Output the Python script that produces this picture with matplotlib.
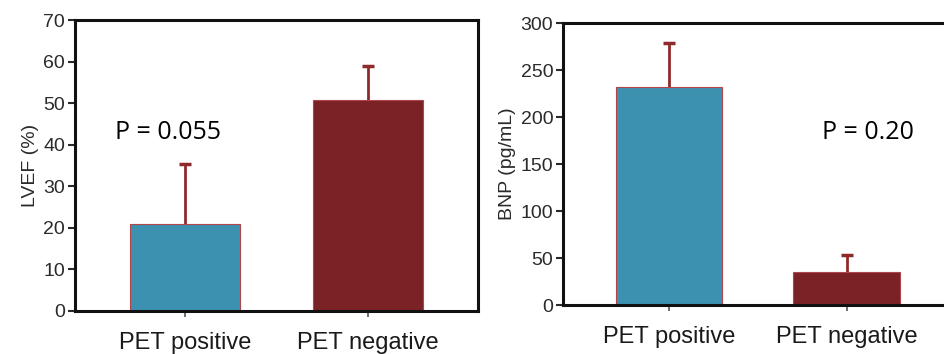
import matplotlib
matplotlib.use("Agg")
import matplotlib.pyplot as plt

groups = ["PET positive", "PET negative"]
lvef = [21, 50.7]
lvef_err = [14.3, 8.2]
bnp = [232, 35]
bnp_err = [47, 18]
p_lvef = "P = 0.055"
p_bnp = "P = 0.20"

colors = ["#3d91b0", "#7a2226"]
err_color = "#8e2a2c"
tick_color = "#2a2a2a"

plt.rcParams["font.family"] = ["Liberation Sans", "DejaVu Sans"]

fig = plt.figure(figsize=(9.44, 3.54), dpi=100)
ax1 = fig.add_axes([0.0794, 0.1215, 0.4269, 0.822])
ax2 = fig.add_axes([0.5964, 0.1384, 0.413, 0.7966])


def draw_panel(ax, vals, errs, ylim, step, ylabel, ptext, px, py):
    x = range(len(groups))
    ax.bar(x, vals, width=0.6, color=colors, edgecolor="#b0464a", linewidth=0.8, zorder=2)
    eb = ax.errorbar(x, vals, yerr=[[0] * len(errs), errs], fmt="none", ecolor=err_color,
                     elinewidth=2, capsize=4, capthick=2.5, zorder=1)
    # only the upper cap is wanted
    eb[1][0].set_visible(False)
    ax.set_xlim(-0.6, 1.6)
    ax.set_ylim(*ylim)
    ax.set_yticks(range(ylim[0], ylim[1] + 1, step))
    ax.set_xticks(list(x))
    ax.set_xticklabels(groups, fontsize=17, color="#1a1a1a")
    ax.tick_params(axis="y", labelsize=14, colors=tick_color, length=5, width=1.5, pad=2)
    ax.tick_params(axis="x", length=4, width=1.2, pad=11, colors="#555555")
    for lab in ax.get_xticklabels():
        lab.set_color("#1a1a1a")
    ax.set_ylabel(ylabel, fontsize=14, color=tick_color, labelpad=3)
    for s in ax.spines.values():
        s.set_linewidth(2.2)
        s.set_color("#111111")
    ax.text(px, py, ptext, fontsize=18, family=["Open Sans", "DejaVu Sans"], color="black",
            va="center", ha="left")


draw_panel(ax1, lvef, lvef_err, (0, 70), 10, "LVEF (%)", p_lvef, -0.38, 43)
draw_panel(ax2, bnp, bnp_err, (0, 300), 50, "BNP (pg/mL)", p_bnp, 0.86, 184)

fig.savefig("out.png", dpi=100)
